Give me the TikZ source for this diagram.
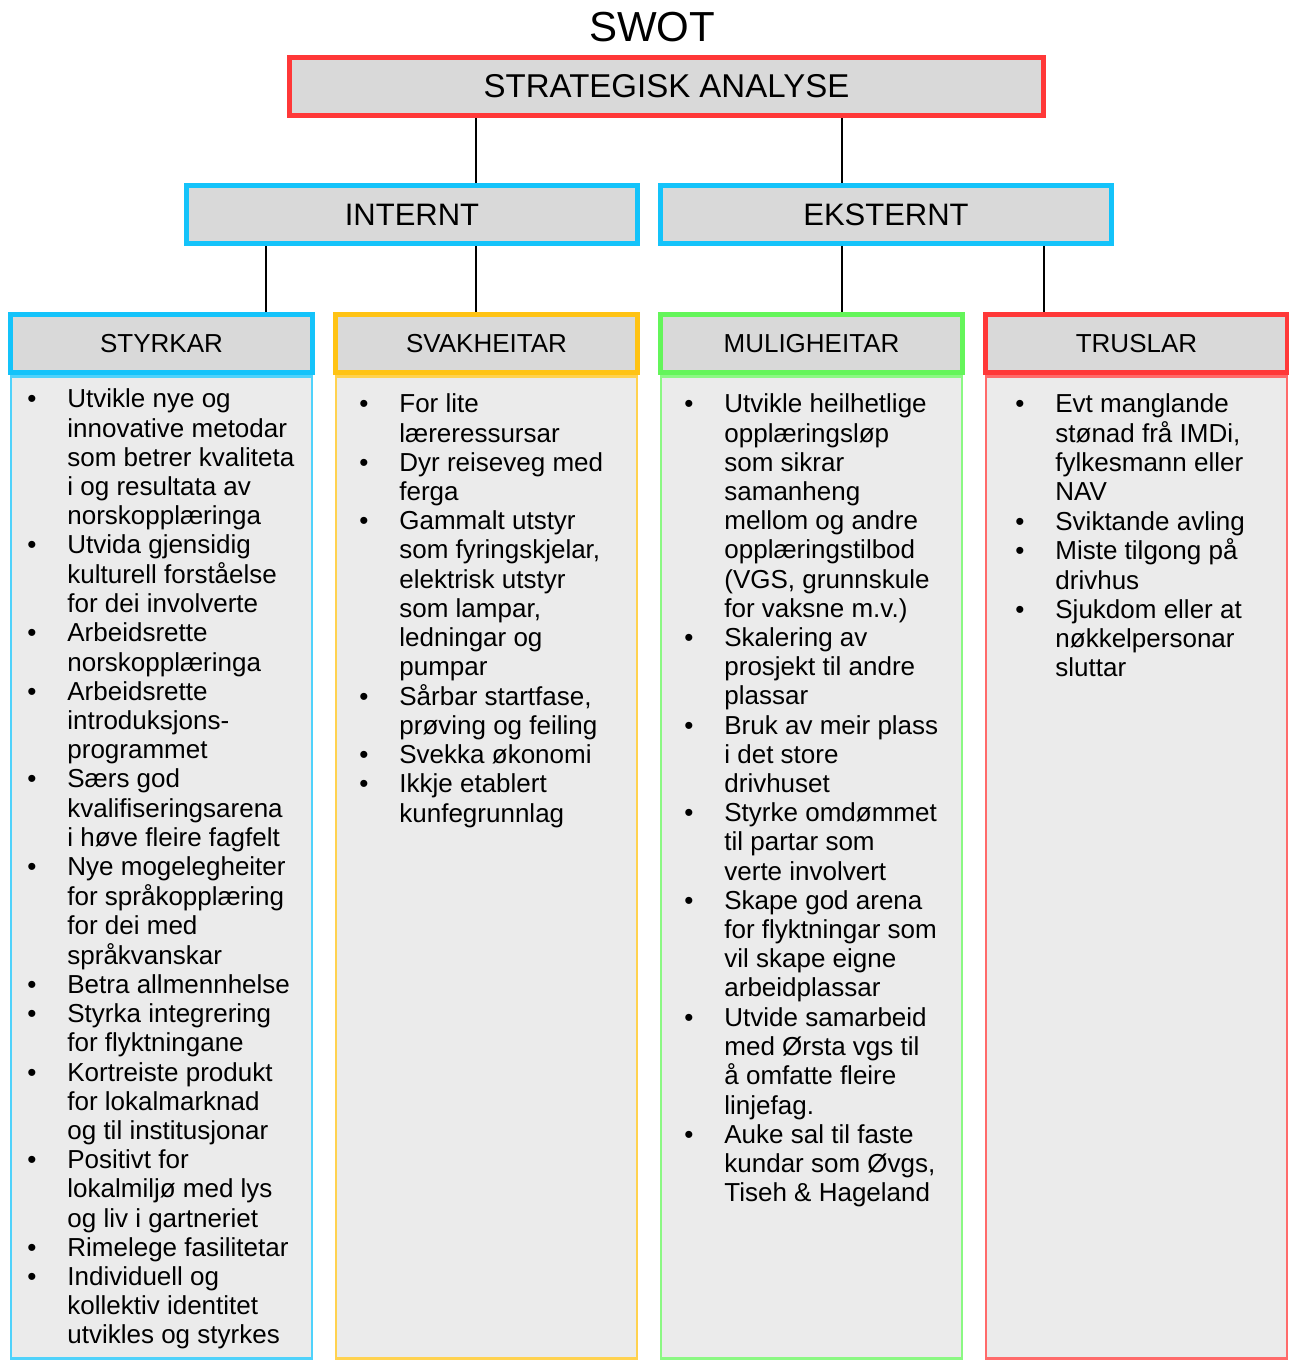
\documentclass[tikz,border=0pt]{standalone}
\usepackage{fontspec}
\setmainfont{Liberation Sans}
\usetikzlibrary{positioning}

\definecolor{swotred}{RGB}{255,56,56}
\definecolor{swotblue}{RGB}{20,195,250}
\definecolor{swotorange}{RGB}{255,195,20}
\definecolor{swotgreen}{RGB}{100,245,90}
\definecolor{headgray}{RGB}{217,217,217}
\definecolor{bodygray}{RGB}{235,235,235}

\newcommand{\listfont}{\fontsize{13pt}{14.6pt}\selectfont}

\begin{document}
\begin{tikzpicture}[
  x=0.5pt, y=-0.5pt,
  head/.style={draw=#1, line width=2.5pt, fill=headgray, inner sep=0pt, minimum height=29pt},
  body/.style={draw=#1!75, line width=1.25pt, fill=bodygray, inner sep=0pt,
    minimum width=150.5pt, minimum height=491pt, anchor=north},
  items/.style={anchor=north west, inner sep=0pt, font=\listfont},
  link/.style={draw, line width=1pt}
]
\useasboundingbox (0,0) rectangle (1289,1360);

% title and top levels
\node[font=\fontsize{21pt}{24pt}\selectfont] (swot) at (652,27) {SWOT};
\node[head=swotred, minimum width=377pt, font=\fontsize{16.5pt}{18pt}\selectfont]
  (strat) at (666.5,86.5) {STRATEGISK ANALYSE};
\node[head=swotblue, minimum width=225.5pt, font=\fontsize{15.5pt}{18pt}\selectfont]
  (intern) at (412,214.5) {INTERNT};
\node[head=swotblue, minimum width=225.5pt, font=\fontsize{15.5pt}{18pt}\selectfont]
  (extern) at (886,214.5) {EKSTERNT};

% the four columns
\node[head=swotblue, minimum width=151pt, font=\listfont] (sty) at (161.5,343.5) {STYRKAR};
\node[head=swotorange, minimum width=151pt, font=\listfont] (svak) at (486.5,343.5) {SVAKHEITAR};
\node[head=swotgreen, minimum width=151pt, font=\listfont] (mul) at (811.5,343.5) {MULIGHEITAR};
\node[head=swotred, minimum width=151pt, font=\listfont] (trus) at (1136.5,343.5) {TRUSLAR};

\node[body=swotblue] (styb) at (sty.south) {};
\node[body=swotorange] (svakb) at (svak.south) {};
\node[body=swotgreen] (mulb) at (mul.south) {};
\node[body=swotred] (trusb) at (trus.south) {};

% connectors
\draw[link] (476,0 |- strat.south) -- (476,0 |- intern.north);
\draw[link] (842,0 |- strat.south) -- (842,0 |- extern.north);
\draw[link] (266,0 |- intern.south) -- (266,0 |- sty.north);
\draw[link] (476,0 |- intern.south) -- (476,0 |- svak.north);
\draw[link] (842,0 |- extern.south) -- (842,0 |- mul.north);
\draw[link] (1044,0 |- extern.south) -- (1044,0 |- trus.north);

% lists
\node[items] (styl) at (27,387) {\begin{tabular}{@{}p{20pt}@{}l@{}}
\textbullet & Utvikle nye og\\ & innovative metodar\\ & som betrer kvaliteta\\ & i og resultata av\\ & norskopplæringa\\
\textbullet & Utvida gjensidig\\ & kulturell forståelse\\ & for dei involverte\\
\textbullet & Arbeidsrette\\ & norskopplæringa\\
\textbullet & Arbeidsrette\\ & introduksjons-\\ & programmet\\
\textbullet & Særs god\\ & kvalifiseringsarena\\ & i høve fleire fagfelt\\
\textbullet & Nye mogelegheiter\\ & for språkopplæring\\ & for dei med\\ & språkvanskar\\
\textbullet & Betra allmennhelse\\
\textbullet & Styrka integrering\\ & for flyktningane\\
\textbullet & Kortreiste produkt\\ & for lokalmarknad\\ & og til institusjonar\\
\textbullet & Positivt for\\ & lokalmiljø med lys\\ & og liv i gartneriet\\
\textbullet & Rimelege fasilitetar\\
\textbullet & Individuell og\\ & kollektiv identitet\\ & utvikles og styrkes
\end{tabular}};

\node[items] (svakl) at (359,392) {\begin{tabular}{@{}p{20pt}@{}l@{}}
\textbullet & For lite\\ & læreressursar\\
\textbullet & Dyr reiseveg med\\ & ferga\\
\textbullet & Gammalt utstyr\\ & som fyringskjelar,\\ & elektrisk utstyr\\ & som lampar,\\ & ledningar og\\ & pumpar\\
\textbullet & Sårbar startfase,\\ & prøving og feiling\\
\textbullet & Svekka økonomi\\
\textbullet & Ikkje etablert\\ & kunfegrunnlag
\end{tabular}};

\node[items] (mull) at (684,392) {\begin{tabular}{@{}p{20pt}@{}l@{}}
\textbullet & Utvikle heilhetlige\\ & opplæringsløp\\ & som sikrar\\ & samanheng\\ & mellom og andre\\ & opplæringstilbod\\ & (VGS, grunnskule\\ & for vaksne m.v.)\\
\textbullet & Skalering av\\ & prosjekt til andre\\ & plassar\\
\textbullet & Bruk av meir plass\\ & i det store\\ & drivhuset\\
\textbullet & Styrke omdømmet\\ & til partar som\\ & verte involvert\\
\textbullet & Skape god arena\\ & for flyktningar som\\ & vil skape eigne\\ & arbeidplassar\\
\textbullet & Utvide samarbeid\\ & med Ørsta vgs til\\ & å omfatte fleire\\ & linjefag.\\
\textbullet & Auke sal til faste\\ & kundar som Øvgs,\\ & Tiseh \& Hageland
\end{tabular}};

\node[items] (trusl) at (1015,392) {\begin{tabular}{@{}p{20pt}@{}l@{}}
\textbullet & Evt manglande\\ & stønad frå IMDi,\\ & fylkesmann eller\\ & NAV\\
\textbullet & Sviktande avling\\
\textbullet & Miste tilgong på\\ & drivhus\\
\textbullet & Sjukdom eller at\\ & nøkkelpersonar\\ & sluttar
\end{tabular}};
\end{tikzpicture}
\end{document}
